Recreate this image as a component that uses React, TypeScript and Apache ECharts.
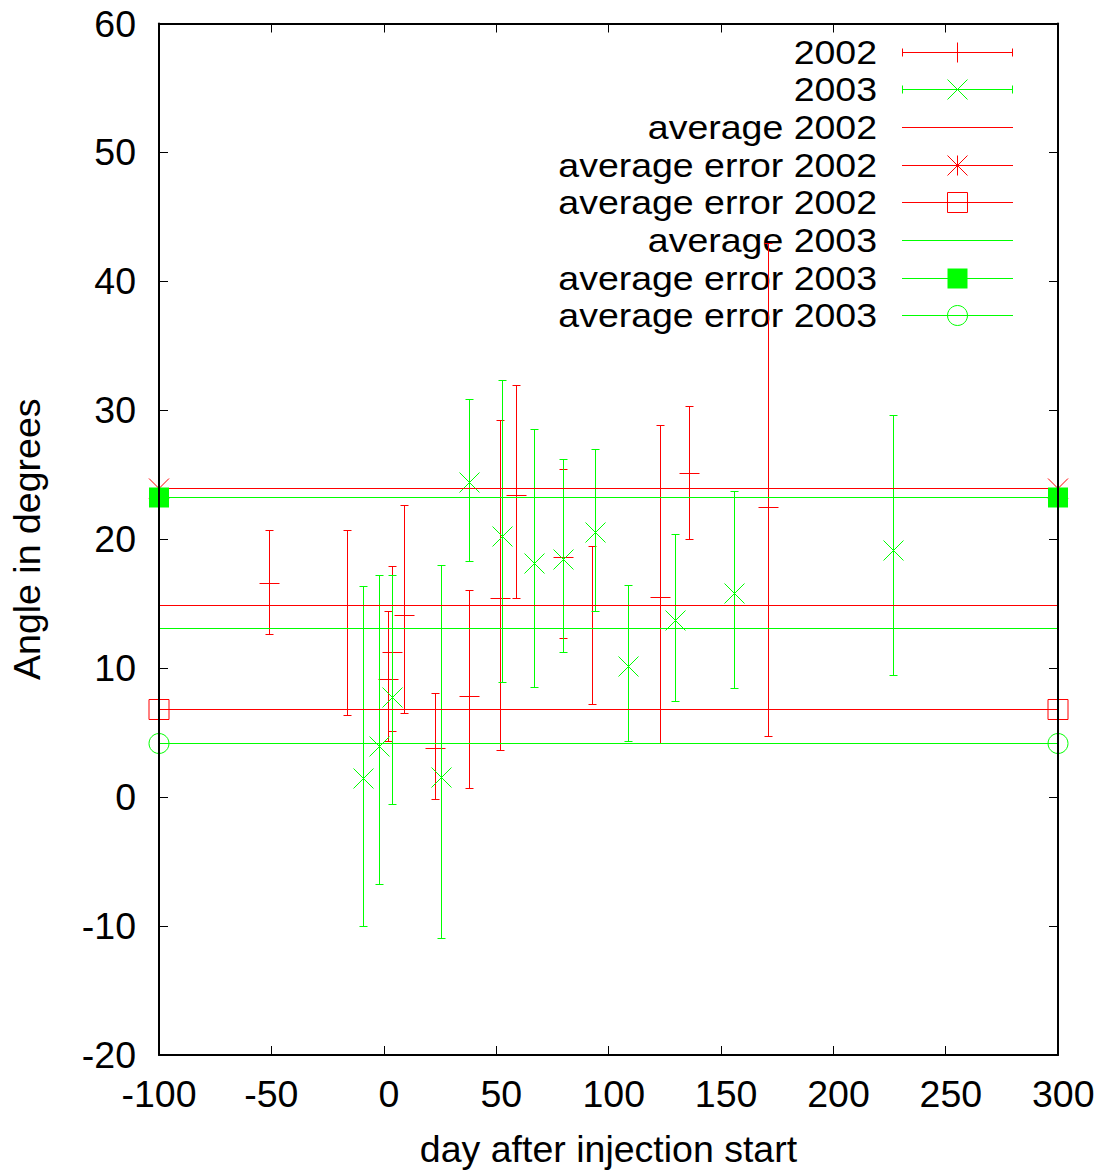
import React, { useEffect, useRef } from 'react';
import * as echarts from 'echarts';

// ---------- axis ranges ----------
const X_MIN = -100;
const X_MAX = 300;
const X_STEP = 50;
const Y_MIN = -20;
const Y_MAX = 60;
const Y_STEP = 10;

// ---------- 2002 measurements ----------
const days2002 = [-51.0, -16.0, 2.0, 4.0, 9.1, 23.1, 38.1, 52.0, 59.1, 80.1, 93.1, 123.0, 136.0, 171.1];
const angle2002 = [16.6, 13.1, 9.15, 11.2, 14.1, 3.8, 7.8, 15.4, 23.4, 18.6, 13.05, 15.5, 25.1, 22.45];
const low2002 = [12.6, 6.3, 4.3, 5.1, 6.5, -0.15, 0.65, 3.6, 15.4, 12.3, 7.2, 4.15, 20.0, 4.7];
const high2002 = [20.7, 20.7, 14.4, 17.9, 22.6, 8.05, 16.0, 29.2, 31.9, 25.4, 19.4, 28.8, 30.3, 42.9];

// ---------- 2003 measurements ----------
const days2003 = [-9.0, -1.9, 4.0, 25.9, 38.1, 53.0, 67.1, 80.1, 94.0, 109.1, 130.0, 156.0, 226.9];
const angle2003 = [1.45, 3.95, 7.75, 1.5, 24.4, 20.2, 18.1, 18.45, 20.5, 10.1, 13.7, 15.8, 19.1];
const low2003 = [-10.05, -6.8, -0.55, -10.95, 18.3, 8.9, 8.5, 11.2, 14.4, 4.3, 7.4, 8.4, 9.4];
const high2003 = [16.3, 17.2, 17.2, 18.0, 30.8, 32.35, 28.5, 26.2, 26.95, 16.4, 20.4, 23.7, 29.6];

// ---------- averages ----------
const avg2002 = 14.9;
const avgErrHigh2002 = 23.9;
const avgErrLow2002 = 6.8;
const avg2003 = 13.1;
const avgErrHigh2003 = 23.2;
const avgErrLow2003 = 4.15;

// ---------- labels ----------
const legendLabels = [
  '2002',
  '2003',
  'average 2002',
  'average error 2002',
  'average error 2002',
  'average 2003',
  'average error 2003',
  'average error 2003',
];
const xAxisTitle = 'day after injection start';
const yAxisTitle = 'Angle in degrees';

// ---------- styling ----------
const FONT = '"Liberation Sans", Arial, Helvetica, sans-serif';
const FONT_SIZE = 37.5;
const LEGEND_FONT_SIZE = 33.5;
const RED = '#ff0000';
const GREEN = '#00ff00';
const MARK = 10;
const CAP = 4;

type Kind = 'plus' | 'cross' | 'star' | 'square' | 'filledSquare' | 'circle' | 'none';

const px = (v: number) => Math.round(v - 0.5) + 0.5;
const f = (v: number) => v.toFixed(2);

// stroke-only path data for a marker centred at (cx, cy)
function markerPath(kind: Kind, cx: number, cy: number): string {
  const m = MARK;
  const plus = `M${f(cx - m)} ${f(cy)}L${f(cx + m)} ${f(cy)}M${f(cx)} ${f(cy - m)}L${f(cx)} ${f(cy + m)}`;
  const cross = `M${f(cx - m)} ${f(cy - m)}L${f(cx + m)} ${f(cy + m)}M${f(cx - m)} ${f(cy + m)}L${f(cx + m)} ${f(cy - m)}`;
  switch (kind) {
    case 'plus':
      return plus;
    case 'cross':
      return cross;
    case 'star':
      return plus + cross;
    case 'square':
      return `M${f(cx - m)} ${f(cy - m)}L${f(cx + m)} ${f(cy - m)}L${f(cx + m)} ${f(cy + m)}L${f(cx - m)} ${f(cy + m)}Z`;
    default:
      return '';
  }
}

function extraShapes(kind: Kind, cx: number, cy: number, color: string): any[] {
  if (kind === 'filledSquare') {
    return [
      {
        type: 'rect',
        shape: { x: cx - MARK, y: cy - MARK, width: 2 * MARK, height: 2 * MARK },
        style: { fill: color, stroke: null },
      },
    ];
  }
  if (kind === 'circle') {
    return [
      {
        type: 'circle',
        shape: { cx, cy, r: MARK },
        style: { fill: null, stroke: color, lineWidth: 1 },
      },
    ];
  }
  return [];
}

function errorBarRenderer(kind: Kind, color: string) {
  return (_params: any, api: any) => {
    const x = api.value(0);
    const pc = api.coord([x, api.value(1)]);
    const pl = api.coord([x, api.value(2)]);
    const ph = api.coord([x, api.value(3)]);
    const cx = px(pc[0]);
    const cy = px(pc[1]);
    const yl = px(pl[1]);
    const yh = px(ph[1]);
    const d =
      `M${f(cx)} ${f(yl)}L${f(cx)} ${f(yh)}` +
      `M${f(cx - CAP)} ${f(yl)}L${f(cx + CAP)} ${f(yl)}` +
      `M${f(cx - CAP)} ${f(yh)}L${f(cx + CAP)} ${f(yh)}` +
      markerPath(kind, cx, cy);
    return {
      type: 'path',
      shape: { pathData: d },
      style: { stroke: color, lineWidth: 1, fill: 'none' },
    };
  };
}

function hLineRenderer(kind: Kind, color: string) {
  return (_params: any, api: any) => {
    const v = api.value(2);
    const p1 = api.coord([api.value(0), v]);
    const p2 = api.coord([api.value(1), v]);
    const y = px(p1[1]);
    const d = `M${f(p1[0])} ${f(y)}L${f(p2[0])} ${f(y)}` + markerPath(kind, p1[0], y) + markerPath(kind, p2[0], y);
    return {
      type: 'group',
      children: [
        { type: 'path', shape: { pathData: d }, style: { stroke: color, lineWidth: 1, fill: 'none' } },
        ...extraShapes(kind, p1[0], y, color),
        ...extraShapes(kind, p2[0], y, color),
      ],
    };
  };
}

// key (legend) rows, drawn with the same primitives as the plot
const legendKinds: Kind[] = ['plus', 'cross', 'none', 'star', 'square', 'none', 'filledSquare', 'circle'];
const legendColors = [RED, GREEN, RED, RED, RED, GREEN, GREEN, GREEN];
const legendBars = [true, true, false, false, false, false, false, false];

function legendRenderer(params: any, _api: any) {
  const i = params.dataIndex;
  const top = 52.3;
  const step = 37.67;
  const textRight = 877;
  const x1 = 902;
  const x2 = 1013;
  const mx = 957.5;
  const yc = top + i * step;
  const y = px(yc);
  const c = legendColors[i];
  let d = `M${x1} ${f(y)}L${x2} ${f(y)}`;
  if (legendBars[i]) {
    d += `M${x1 + 0.5} ${f(y - CAP)}L${x1 + 0.5} ${f(y + CAP)}M${x2 - 0.5} ${f(y - CAP)}L${x2 - 0.5} ${f(y + CAP)}`;
  }
  d += markerPath(legendKinds[i], mx, y);
  return {
    type: 'group',
    children: [
      {
        type: 'text',
        x: textRight,
        y: yc,
        scaleX: FONT_SIZE / LEGEND_FONT_SIZE,
        scaleY: 1,
        style: {
          text: legendLabels[i],
          x: 0,
          y: 0,
          align: 'right',
          verticalAlign: 'middle',
          fontSize: LEGEND_FONT_SIZE,
          fontFamily: FONT,
          fill: '#000',
        },
      },
      { type: 'path', shape: { pathData: d }, style: { stroke: c, lineWidth: 1, fill: 'none' } },
      ...extraShapes(legendKinds[i], mx, y, c),
    ],
  };
}

const axisLine = () => ({ show: true, onZero: false, lineStyle: { color: '#000', width: 2 } });
const axisTick = () => ({ show: true, inside: true, length: 9, lineStyle: { color: '#000', width: 1 } });

export default function App() {
  const ref = useRef<HTMLDivElement>(null);

  useEffect(() => {
    document.body.style.margin = '0';
    if (!ref.current) return;
    const chart = echarts.init(ref.current, null, { renderer: 'svg' });

    const data2002 = days2002.map((d, i) => [d, angle2002[i], low2002[i], high2002[i]]);
    const data2003 = days2003.map((d, i) => [d, angle2003[i], low2003[i], high2003[i]]);
    const hl = (v: number) => [[X_MIN, X_MAX, v]];

    const custom = (name: string, data: any[], renderItem: any, encode: any, z = 2) => ({
      type: 'custom',
      name,
      coordinateSystem: 'cartesian2d',
      xAxisIndex: 0,
      yAxisIndex: 0,
      data,
      renderItem,
      encode,
      silent: true,
      animation: false,
      z,
    });
    const ebEncode = { x: 0, y: [1, 2, 3] };
    const hlEncode = { x: [0, 1], y: 2 };

    const labelText = { fontSize: FONT_SIZE, color: '#000', fontFamily: FONT };

    const option: any = {
      animation: false,
      backgroundColor: '#fff',
      textStyle: { fontFamily: FONT },
      grid: { left: 157, right: 40, top: 23.5, bottom: 117, containLabel: false },
      xAxis: [
        {
          type: 'value',
          min: X_MIN,
          max: X_MAX,
          interval: X_STEP,
          position: 'bottom',
          z: 5,
          axisLine: axisLine(),
          axisTick: axisTick(),
          splitLine: { show: false },
          axisLabel: {
            ...labelText,
            margin: 20,
            // gnuplot leaves a sign-width gap before non-negative tick labels
            formatter: (v: number) => (v >= 0 ? `{pos|${v}}` : `${v}`),
            rich: { pos: { ...labelText, padding: [0, 0, 0, 10.4] } },
          },
          name: xAxisTitle,
          nameLocation: 'middle',
          nameGap: 75,
          nameTextStyle: labelText,
        },
        {
          type: 'value',
          min: X_MIN,
          max: X_MAX,
          interval: X_STEP,
          position: 'top',
          z: 5,
          axisLine: axisLine(),
          axisTick: axisTick(),
          splitLine: { show: false },
          axisLabel: { show: false },
        },
      ],
      yAxis: [
        {
          type: 'value',
          min: Y_MIN,
          max: Y_MAX,
          interval: Y_STEP,
          position: 'left',
          z: 5,
          axisLine: axisLine(),
          axisTick: axisTick(),
          splitLine: { show: false },
          axisLabel: { ...labelText, margin: 23 },
          name: yAxisTitle,
          nameLocation: 'middle',
          nameGap: 113,
          nameTextStyle: labelText,
        },
        {
          type: 'value',
          min: Y_MIN,
          max: Y_MAX,
          interval: Y_STEP,
          position: 'right',
          z: 5,
          axisLine: axisLine(),
          axisTick: axisTick(),
          splitLine: { show: false },
          axisLabel: { show: false },
        },
      ],
      series: [
        custom('legend', legendLabels.map((_, i) => [X_MIN, Y_MAX, i]), legendRenderer, { x: 0, y: 1 }, 1),
        custom('2002', data2002, errorBarRenderer('plus', RED), ebEncode),
        custom('2003', data2003, errorBarRenderer('cross', GREEN), ebEncode),
        custom('average 2002', hl(avg2002), hLineRenderer('none', RED), hlEncode),
        custom('average error 2002 (high)', hl(avgErrHigh2002), hLineRenderer('star', RED), hlEncode),
        custom('average error 2002 (low)', hl(avgErrLow2002), hLineRenderer('square', RED), hlEncode),
        custom('average 2003', hl(avg2003), hLineRenderer('none', GREEN), hlEncode),
        custom('average error 2003 (high)', hl(avgErrHigh2003), hLineRenderer('filledSquare', GREEN), hlEncode),
        custom('average error 2003 (low)', hl(avgErrLow2003), hLineRenderer('circle', GREEN), hlEncode),
      ],
    };

    chart.setOption(option);
    return () => {
      chart.dispose();
    };
  }, []);

  return <div ref={ref} style={{ width: 1098, height: 1173 }} />;
}
